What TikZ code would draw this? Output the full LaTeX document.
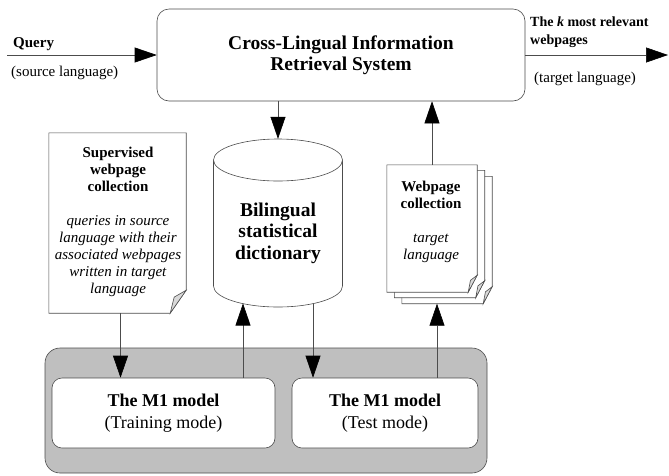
\documentclass[tikz,border=0pt]{standalone}
\usepackage{fontspec}
\setmainfont{Liberation Serif}
\usetikzlibrary{arrows.meta, calc, positioning}

\tikzset{
  flow/.style={draw=black!70, line width=0.6pt, -{Triangle[length=22pt,width=15pt,color=black]}},
  sysbox/.style={draw=black!70, line width=0.6pt, rounded corners=12pt, fill=white,
    minimum width=368pt, minimum height=92pt, align=center,
    font=\fontsize{19.5}{21}\selectfont\bfseries},
  modebox/.style={draw=black!70, line width=0.6pt, rounded corners=10pt, fill=white,
    minimum height=70pt, align=center, font=\fontsize{18}{22}\selectfont},
  groupbox/.style={draw=black!70, line width=0.6pt, rounded corners=15pt, fill=black!25},
  sheet/.style={inner sep=0pt, minimum width=#1},
  page/.style={draw=black!70, line width=0.6pt, fill=white},
  fold/.style={draw=black!70, line width=0.6pt, fill=black!15},
  doctext/.style={align=center, font=\fontsize{15}{17}\selectfont},
  lbl/.style={inner sep=0pt, font=\fontsize{15}{17}\selectfont}
}

% page with a turned-down corner: node, fold width, fold height
\newcommand{\dogear}[3]{%
  \path[page] (#1.north west) -- (#1.north east) -- ([yshift=#3pt]#1.south east)
    -- ([xshift=-#2pt]#1.south east) -- (#1.south west) -- cycle;
  \path[fold] ([yshift=#3pt]#1.south east) -- ([xshift=-0.75*#2pt, yshift=0.7*#3pt]#1.south east)
    -- ([xshift=-#2pt]#1.south east) -- cycle;
}

\begin{document}
\begin{tikzpicture}[x=1pt, y=-1pt]
\useasboundingbox (0,0) rectangle (669,475);

% CLIR system
\node[sysbox] (clir) at (341,55) {Cross-Lingual Information\\Retrieval System};

% Query in, webpages out
\coordinate (qin) at (7,55);
\coordinate (kout) at (668,55);
\draw[flow] (qin) -- (clir.west);
\draw[flow] (clir.east) -- (kout);
\node[lbl, font=\fontsize{15}{17}\selectfont\bfseries, anchor=base west] (qlbl) at (13,47) {Query};
\node[lbl, anchor=base west] (srclbl) at (11,76) {(source language)};
\node[lbl, font=\fontsize{14}{18}\selectfont\bfseries, anchor=base west, align=left] (klbl) at (530,44) {The \textit{k} most relevant\\webpages};
\node[lbl, anchor=base west] (tgtlbl) at (534,82) {(target language)};

% Bilingual dictionary (cylinder)
\node[sheet=129pt, minimum height=168pt] (dict) at (278,223) {};
\path[page] (213.5,160) -- (213.5,286) arc[start angle=180, end angle=0, x radius=64.5, y radius=21] -- (342.5,160) -- cycle;
\draw[page] (278,160) ellipse[x radius=64.5, y radius=21];
\node[align=center, font=\fontsize{19.5}{21.5}\selectfont\bfseries] (dicttxt) at (278,233) {Bilingual\\statistical\\dictionary};
\coordinate (dictin) at (243,303.5);
\coordinate (dictout) at (313,303.5);

% Supervised collection
\node[sheet=137pt, minimum height=180pt] (sup) at (117.5,223) {};
\dogear{sup}{16}{23}
\node[doctext] (suptxt) at (118,222) {\textbf{Supervised}\\\textbf{webpage}\\\textbf{collection}\\[17pt]
  \textit{queries in source}\\\textit{language with their}\\\textit{associated webpages}\\\textit{written in target}\\\textit{language}};

% Webpage collection (stack of pages)
\node[sheet=90pt, minimum height=127pt] (wpc) at (447,240) {};
\node[sheet=90pt, minimum height=127pt] (wpb) at (439.5,234) {};
\node[sheet=90pt, minimum height=127pt] (wp) at (432,228.5) {};
\dogear{wpc}{9}{17}
\dogear{wpb}{9}{17}
\dogear{wp}{9}{17}
\node[doctext] (wptxt) at (431,221.5) {\textbf{Webpage}\\\textbf{collection}\\[17pt]\textit{target}\\\textit{language}};
\coordinate (wpin) at ([xshift=-10pt]wpc.south);

% M1 model
\node[groupbox, minimum width=442pt, minimum height=125pt] (models) at (266,410.5) {};
\node[modebox, minimum width=223pt] (train) at (163.5,413) {\textbf{The M1 model}\\(Training mode)};
\node[modebox, minimum width=186pt] (test) at (385,413) {\textbf{The M1 model}\\(Test mode)};

% connections
\draw[flow] (clir.south -| dict.north) -- (dict.north);
\draw[flow] (wp.north) -- (wp.north |- clir.south);
\draw[flow] ([xshift=3pt]sup.south) -- ([xshift=3pt]sup.south |- train.north);
\draw[flow] (train.north -| dictin) -- (dictin);
\draw[flow] (dictout) -- (dictout |- test.north);
\draw[flow] (test.north -| wpin) -- (wpin);
\end{tikzpicture}
\end{document}
